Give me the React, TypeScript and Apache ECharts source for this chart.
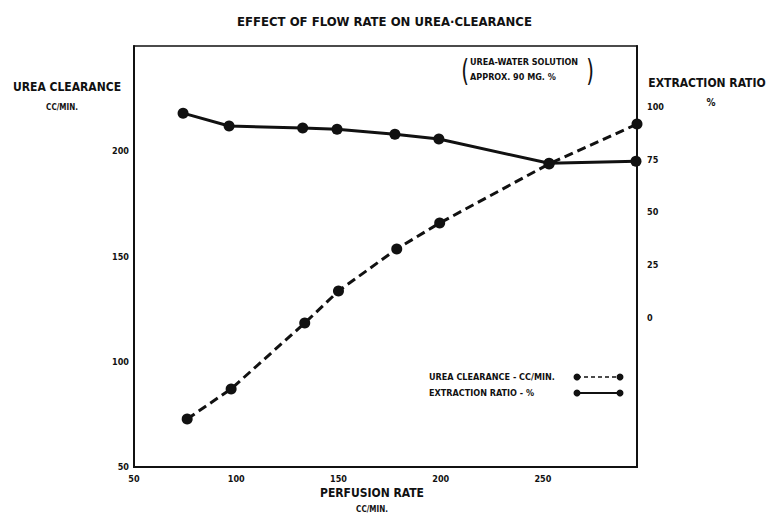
import React, { useEffect, useRef } from "react";
import * as echarts from "echarts";

const chartTitle = "EFFECT OF FLOW RATE ON UREA·CLEARANCE";
const xTicks = [50, 100, 150, 200, 250];
const leftTicks = [50, 100, 150, 200];
const rightTicks = [0, 25, 50, 75, 100];

// Urea clearance (cc/min) vs perfusion rate (cc/min)
const clearanceX = [76, 97.5, 133.5, 150, 178.5, 199.5, 253, 296];
const clearanceY = [72.8, 87.1, 118.4, 133.6, 153.6, 165.9, 194, 212.9];

// Extraction ratio (%) vs perfusion rate
const ratioX = [74, 96.5, 132.5, 149.3, 177.6, 199.1, 253, 295.5];
const ratioY = [97.1, 91, 90, 89.5, 87.1, 84.8, 73.3, 74.3];

const FONT = "'DejaVu Sans Condensed', 'Liberation Sans Narrow', 'DejaVu Sans', sans-serif";

export default function App() {
  const ref = useRef<HTMLDivElement>(null);
  useEffect(() => {
    if (!ref.current) return;
    const chart = echarts.init(ref.current, null, { renderer: "svg" });
    const txt = (x: number, y: number, text: string, size: number, align = "center", extra: any = {}) => ({
      type: "text",
      x,
      y,
      style: {
        text,
        fill: "#111",
        font: `bold ${size}px ${FONT}`,
        textAlign: align,
        textVerticalAlign: "middle",
        ...extra,
      },
    });
    const legendSym = (y: number, dashed: boolean) => [
      {
        type: "line",
        shape: { x1: 577, y1: y, x2: 620, y2: y },
        style: { stroke: "#111", lineWidth: dashed ? 1.5 : 2, lineDash: dashed ? [4, 3] : null },
      },
      { type: "circle", shape: { cx: 577, cy: y, r: 3.5 }, style: { fill: "#111" } },
      { type: "circle", shape: { cx: 620, cy: y, r: 3.5 }, style: { fill: "#111" } },
    ];
    chart.setOption({
      animation: false,
      backgroundColor: "#fff",
      title: {
        text: chartTitle,
        left: "center",
        top: 10,
        textStyle: { fontFamily: FONT, fontSize: 13, fontWeight: "bold", color: "#111" },
      },
      grid: {
        left: 134,
        top: 46,
        width: 503,
        height: 421,
        show: true,
        borderColor: "#111",
        borderWidth: 1.5,
        containLabel: false,
      },
      xAxis: {
        type: "value",
        min: 50,
        max: 296,
        interval: 50,
        axisLine: { show: true, onZero: false, lineStyle: { color: "#111", width: 2 } },
        axisTick: { show: false },
        splitLine: { show: false },
        axisLabel: {
          customValues: xTicks,
          margin: 7,
          color: "#111",
          fontFamily: FONT,
          fontSize: 9,
          fontWeight: "bold",
        },
      },
      yAxis: [
        {
          type: "value",
          min: 50,
          max: 250,
          interval: 50,
          axisLine: { show: true, onZero: false, lineStyle: { color: "#111", width: 2 } },
          axisTick: { show: false },
          splitLine: { show: false },
          axisLabel: {
            customValues: leftTicks,
            margin: 5,
            color: "#111",
            fontFamily: FONT,
            fontSize: 9,
            fontWeight: "bold",
          },
        },
        {
          type: "value",
          min: -71,
          max: 129,
          position: "right",
          axisLine: { show: true, onZero: false, lineStyle: { color: "#111", width: 2 } },
          axisTick: { show: false },
          splitLine: { show: false },
          axisLabel: {
            customValues: rightTicks,
            margin: 10,
            color: "#111",
            fontFamily: FONT,
            fontSize: 9,
            fontWeight: "bold",
          },
        },
      ],
      series: [
        {
          name: "UREA CLEARANCE - CC/MIN.",
          type: "line",
          yAxisIndex: 0,
          data: clearanceX.map((x, i) => [x, clearanceY[i]]),
          symbol: "circle",
          symbolSize: 11,
          itemStyle: { color: "#111" },
          lineStyle: { color: "#111", width: 3, type: [9, 5] },
        },
        {
          name: "EXTRACTION RATIO - %",
          type: "line",
          yAxisIndex: 1,
          data: ratioX.map((x, i) => [x, ratioY[i]]),
          symbol: "circle",
          symbolSize: 11,
          itemStyle: { color: "#111" },
          lineStyle: { color: "#111", width: 3 },
        },
      ],
      graphic: [
        txt(67, 87, "UREA CLEARANCE", 12),
        txt(62, 107, "CC/MIN.", 8),
        txt(707, 83, "EXTRACTION RATIO", 12),
        txt(711, 102, "%", 10),
        txt(372, 493, "PERFUSION RATE", 12),
        txt(372, 509, "CC/MIN.", 8),
        txt(470, 62, "UREA-WATER SOLUTION", 9, "left"),
        txt(470, 77, "APPROX. 90 MG. %", 9, "left"),
        {
          type: "text",
          x: 465,
          y: 70,
          scaleY: 1.4,
          style: { text: "(", fill: "#111", font: `22px ${FONT}`, textAlign: "center", textVerticalAlign: "middle" },
        },
        {
          type: "text",
          x: 590,
          y: 70,
          scaleY: 1.4,
          style: { text: ")", fill: "#111", font: `22px ${FONT}`, textAlign: "center", textVerticalAlign: "middle" },
        },
        txt(429, 377, "UREA CLEARANCE - CC/MIN.", 9, "left"),
        txt(429, 393, "EXTRACTION RATIO - %", 9, "left"),
        ...legendSym(377, true),
        ...legendSym(393, false),
      ],
    });
    return () => chart.dispose();
  }, []);
  return (
    <div
      ref={ref}
      style={{ position: "absolute", left: 0, top: 0, width: 769, height: 515 }}
    />
  );
}
